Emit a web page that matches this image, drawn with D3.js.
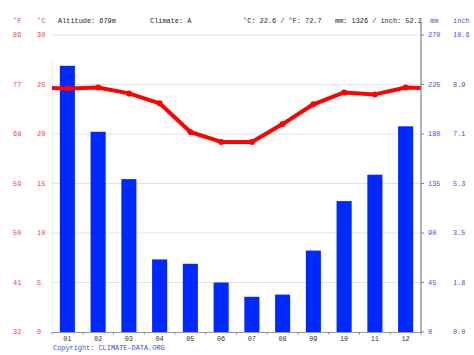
<!DOCTYPE html>
<html><head><meta charset="utf-8">
<script src="https://cdn.jsdelivr.net/npm/d3@7"></script>
<style>
html,body{margin:0;padding:0;background:#fff;}
svg text{font-family:"Liberation Mono","DejaVu Sans Mono",monospace;font-size:6.9px;}
</style></head>
<body><svg id="c" width="474" height="355"></svg>
<script>
const months = ["01","02","03","04","05","06","07","08","09","10","11","12"];
const precipMM = [242, 182, 139, 66, 62, 45, 32, 34, 74, 119, 143, 187];
const tempC = [24.6, 24.7, 24.1, 23.1, 20.2, 19.2, 19.2, 21.0, 23.0, 24.2, 24.0, 24.7];
const cTicks = [0, 5, 10, 15, 20, 25, 30];
const fTicks = ["32", "41", "50", "59", "68", "77", "86"];
const mmTicks = [0, 45, 90, 135, 180, 225, 270];
const inchTicks = ["0.0", "1.8", "3.5", "5.3", "7.1", "8.9", "10.6"];
const header = {alt:"Altitude: 679m", climate:"Climate: A", temp:"°C: 22.6 / °F: 72.7", prec:"mm: 1326 / inch: 52.2"};

const svg = d3.select("#c");
const L = 52, R = 421, T = 35, B = 332;
const x = d3.scaleBand().domain(months).range([L, R]).paddingInner(0.51).paddingOuter(0.255);
const yC = d3.scaleLinear().domain([0, 30]).range([B, T]);
const yMM = d3.scaleLinear().domain([0, 270]).range([B, T]);
const red = "#f03c3c", blue = "#4450d8";

// gridlines
svg.append("g").selectAll("line").data(cTicks.slice(1)).join("line")
  .attr("x1", L).attr("x2", R).attr("y1", d => yC(d)).attr("y2", d => yC(d))
  .attr("stroke", "#e2e2e2").attr("stroke-width", 1);
// faint left border
svg.append("line").attr("x1", L + 0.5).attr("x2", L + 0.5).attr("y1", 60).attr("y2", B)
  .attr("stroke", "#e6ebf8").attr("stroke-width", 1);

// bars
svg.append("g").selectAll("rect").data(precipMM).join("rect")
  .attr("x", (d, i) => x(months[i])).attr("width", x.bandwidth())
  .attr("y", d => yMM(d)).attr("height", d => B - yMM(d))
  .attr("fill", "#0029ff");

// temperature line with edge extension
const step = x.step();
const edge = (tempC[0] + tempC[11]) / 2;
const pts = [[L, edge]].concat(tempC.map((t, i) => [x(months[i]) + x.bandwidth() / 2, t])).concat([[R, edge]]);
svg.append("path").datum(pts)
  .attr("d", d3.line().x(d => d[0]).y(d => yC(d[1])))
  .attr("fill", "none").attr("stroke", "#ff0000").attr("stroke-width", 4).attr("stroke-linejoin", "round");
svg.append("g").selectAll("circle").data(tempC).join("circle")
  .attr("cx", (d, i) => x(months[i]) + x.bandwidth() / 2).attr("cy", d => yC(d)).attr("r", 3)
  .attr("fill", "#ff0000");

// bottom axis
const xAxis = svg.append("g").attr("transform", `translate(0,${B})`)
  .call(d3.axisBottom(x).tickSize(0).tickPadding(4));
xAxis.select(".domain").attr("stroke", "#999");
xAxis.selectAll("text").attr("fill", "#333").style("font-family", '"Liberation Mono",monospace').style("font-size", "6.9px");
svg.append("g").selectAll("line").data(d3.range(13)).join("line")
  .attr("x1", i => L + i * step).attr("x2", i => L + i * step).attr("y1", B).attr("y2", B + 2.5)
  .attr("stroke", "#888");

// right axis line
svg.append("line").attr("x1", R).attr("x2", R).attr("y1", 22).attr("y2", B + 0.5)
  .attr("stroke", "#888").attr("stroke-width", 1.3);
svg.append("g").selectAll("line").data(mmTicks).join("line")
  .attr("x1", R).attr("x2", R + 3).attr("y1", d => yMM(d)).attr("y2", d => yMM(d))
  .attr("stroke", "#888");

// left labels
svg.append("g").selectAll("text").data(fTicks).join("text")
  .attr("x", 13).attr("y", (d, i) => yC(cTicks[i]) + 2.4).attr("fill", red).text(d => d);
svg.append("g").selectAll("text").data(cTicks).join("text")
  .attr("x", 37).attr("y", d => yC(d) + 2.4).attr("fill", red).text(d => d);
// right labels
svg.append("g").selectAll("text").data(mmTicks).join("text")
  .attr("x", 428).attr("y", d => yMM(d) + 2.4).attr("fill", blue).text(d => d);
svg.append("g").selectAll("text").data(inchTicks).join("text")
  .attr("x", 453).attr("y", (d, i) => yMM(mmTicks[i]) + 2.4).attr("fill", blue).text(d => d);

// header
const hy = 22.5;
svg.append("text").attr("x", 13).attr("y", hy).attr("fill", red).text("°F");
svg.append("text").attr("x", 37).attr("y", hy).attr("fill", red).text("°C");
svg.append("text").attr("x", 58).attr("y", hy).attr("fill", "#222").text(header.alt);
svg.append("text").attr("x", 150).attr("y", hy).attr("fill", "#222").text(header.climate);
svg.append("text").attr("x", 243).attr("y", hy).attr("fill", "#222").text(header.temp);
svg.append("text").attr("x", 335).attr("y", hy).attr("fill", "#222").text(header.prec);
svg.append("text").attr("x", 430).attr("y", hy).attr("fill", blue).text("mm");
svg.append("text").attr("x", 453).attr("y", hy).attr("fill", blue).text("inch");

svg.append("text").attr("x", 53).attr("y", 350).attr("fill", "#3a4fd0").text("Copyright: CLIMATE-DATA.ORG");
</script></body></html>
